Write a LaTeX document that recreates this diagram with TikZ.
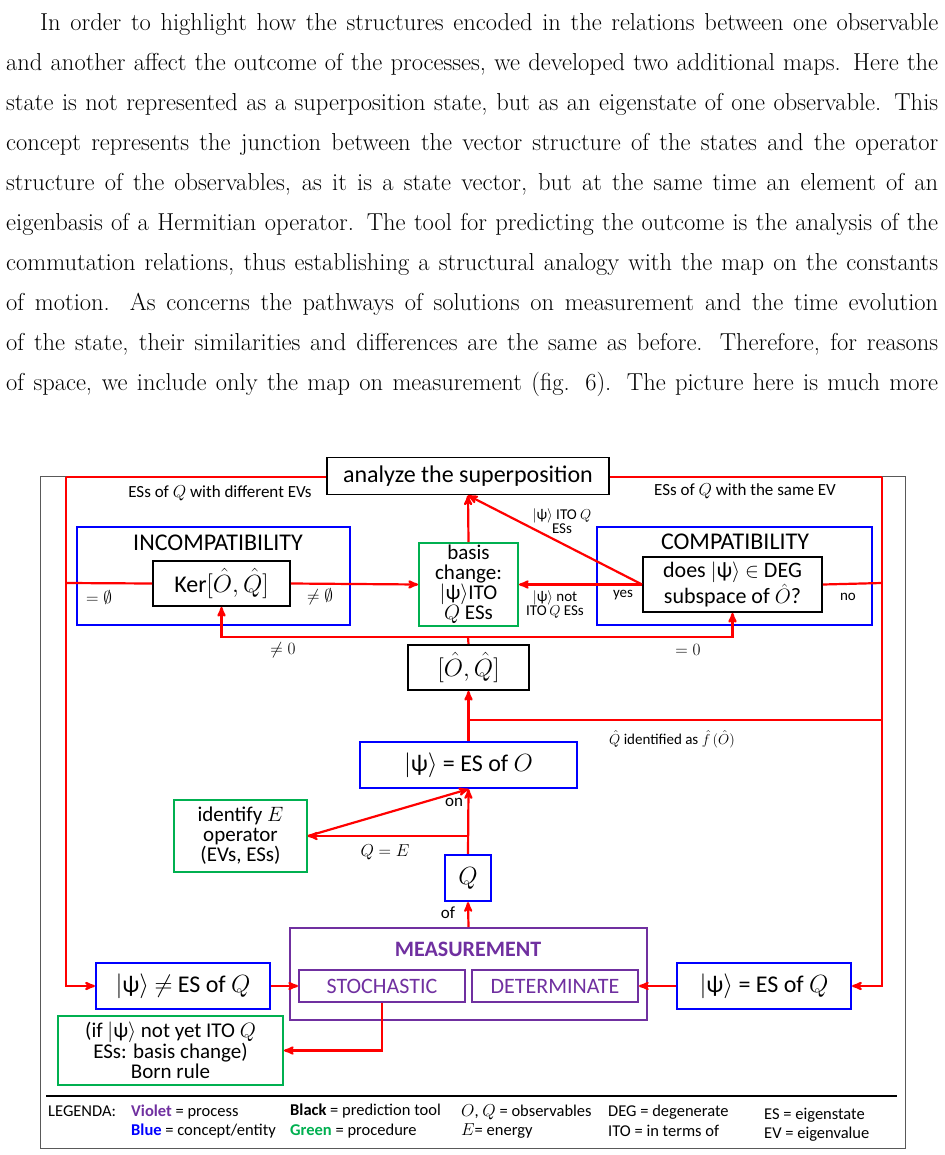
\documentclass[tikz,border=0pt]{standalone}
\usepackage{amsmath}
\usepackage{amssymb}
\usepackage{fontspec}
\setsansfont{Carlito}
\usetikzlibrary{arrows,positioning}
\definecolor{cred}{RGB}{255,0,0}
\definecolor{cblue}{RGB}{0,0,255}
\definecolor{cgreen}{RGB}{0,176,80}
\definecolor{cviolet}{RGB}{112,48,160}
\newcommand{\ket}{$|$ψ$\rangle$}
\tikzset{
    tool/.style={
    rectangle,draw=black,line width=1.8pt,fill=white,inner sep=2pt,align=center,font=\sffamily\fontsize{24}{24}\selectfont
    },
    concept/.style={
    rectangle,draw=cblue,line width=2.2pt,fill=white,inner sep=2pt,align=center,font=\sffamily\fontsize{24}{24}\selectfont
    },
    proc/.style={
    rectangle,draw=cgreen,line width=2pt,fill=white,inner sep=1pt,align=center,font=\sffamily\fontsize{21}{20}\selectfont
    },
    process/.style={
    rectangle,draw=cviolet,line width=2pt,align=center,font=\sffamily\fontsize{22}{22}\selectfont
    },
    flow/.style={
    draw=cred,line width=2.2pt,-stealth'
    },
    flowline/.style={
    draw=cred,line width=2.2pt
    },
    lab/.style={
    font=\sffamily\fontsize{15}{14}\selectfont,align=center,inner sep=0pt
    },
    leg/.style={
    font=\sffamily\fontsize{16.5}{16}\selectfont,anchor=west,inner sep=0pt
    },
}
\begin{document}
\begin{tikzpicture}[x=1pt,y=-1pt]
  \useasboundingbox[fill=white] (0,0) rectangle (944,1155);
  % running text
  \node[anchor=north west,inner sep=0pt,text width=932pt,align=justify,
        font=\fontsize{24.5}{40}\selectfont] (txt) at (6,2) {%
  \strut\hspace*{34pt}In order to highlight how the structures encoded in the relations between one observable\linebreak
  and another affect the outcome of the processes, we developed two additional maps. Here the\linebreak
  state is not represented as a superposition state, but as an eigenstate of one observable. This\linebreak
  concept represents the junction between the vector structure of the states and the operator\linebreak
  structure of the observables, as it is a state vector, but at the same time an element of an\linebreak
  eigenbasis of a Hermitian operator. The tool for predicting the outcome is the analysis of the\linebreak
  commutation relations, thus establishing a structural analogy with the map on the constants\linebreak
  of motion. As concerns the pathways of solutions on measurement and the time evolution\linebreak
  of the state, their similarities and differences are the same as before. Therefore, for reasons\linebreak
  of space, we include only the map on measurement (fig. 6). The picture here is much more\strut\parfillskip=0pt\par};
  % frame
  \draw[gray!70!black,line width=1pt] (40,476) rectangle (905,1148);

  % boxes
  \node[concept,minimum width=273pt,minimum height=98pt] (incomp) at (213.5,576) {};
  \node[concept,minimum width=275pt,minimum height=98pt] (comp) at (734.5,576) {};
  \node[font=\sffamily\fontsize{24}{24}\selectfont] at (218,543) {INCOMPATIBILITY};
  \node[font=\sffamily\fontsize{24}{24}\selectfont] at (735,542) {COMPATIBILITY};
  \node[tool,minimum width=282pt,minimum height=37pt] (super) at (468,476) {analyze the superposition};
  \node[tool,minimum width=137pt,minimum height=45pt] (ker) at (221.5,583.5) {Ker$[\hat{O},\hat{Q}]$};
  \node[tool,minimum width=179pt,minimum height=55pt,font=\sffamily\fontsize{22}{22}\selectfont] (deg) at (732.5,584.5)
       {does \ket{} $\in$ DEG\\subspace of $\hat{O}$?};
  \node[proc,minimum width=99pt,minimum height=83pt] (basis) at (468.5,584.5)
       {basis\\change:\\\ket{}ITO\\$Q$ ESs};
  \node[tool,minimum width=121pt,minimum height=45pt] (comm) at (468.5,667.5) {$[\hat{O},\hat{Q}]$};
  \node[concept,minimum width=217pt,minimum height=46pt] (eso) at (468.5,765) {\ket{} = ES of $O$};
  \node[proc,minimum width=133pt,minimum height=72pt] (ident) at (240.5,836) {identify $E$\\operator\\(EVs, ESs)};
  \node[concept,minimum width=46pt,minimum height=46pt] (q) at (468,878) {$Q$};
  \node[process,minimum width=357pt,minimum height=92pt] (meas) at (468.5,974) {};
  \node[font=\sffamily\bfseries\fontsize{22}{22}\selectfont,text=cviolet] at (468,949) {MEASUREMENT};
  \node[process,text=cviolet,minimum width=166pt,minimum height=32pt] (stoch) at (382,986) {STOCHASTIC};
  \node[process,text=cviolet,minimum width=166pt,minimum height=32pt] (det) at (555,986) {DETERMINATE};
  \node[concept,minimum width=174pt,minimum height=46pt] (notes) at (183,986) {\ket{} $\neq$ ES of $Q$};
  \node[concept,minimum width=174pt,minimum height=46pt] (ises) at (764,986) {\ket{} = ES of $Q$};
  \node[proc,minimum width=225pt,minimum height=69pt] (born) at (170.5,1050.5)
       {(if \ket{} not yet ITO $Q$\\ESs: basis change)\\Born rule};

  % junctions
  \coordinate (tl) at (66,477);
  \coordinate (tr) at (882,477);
  \coordinate (bl) at (66,986);
  \coordinate (br) at (882,986);
  \coordinate (split) at (468,637);
  \coordinate (fork) at (468,720);
  \coordinate (qe) at (468,836);

  % connectors
  \draw[flowline] (super.west|-tl) -- (tl);
  \draw[flow] (tl) -- (bl) -- (notes.west);
  \draw[flowline] (super.east|-tr) -- (tr);
  \draw[flow] (tr) -- (br) -- (ises.east);
  \draw[flowline] (66,583) -- (ker.west);
  \draw[flow] (ker.east) -- (basis.west);
  \draw[flow] (deg.west) -- (basis.east);
  \draw[flowline] (deg.east) -- (882,583);
  \draw[flow] (deg.west) -- (super.south);
  \draw[flow] (basis.north) -- (super.south);
  \draw[flowline] (comm.north) -- (split);
  \draw[flow] (split) -| (ker.south);
  \draw[flow] (split) -| (deg.south);
  \draw[flow] (eso.north) -- (comm.south);
  \draw[flowline] (fork) -- (882,720);
  \draw[flow] (q.north) -- (eso.south);
  \draw[flow] (qe) -- (ident.east);
  \draw[flow] (ident.east) -- (eso.south);
  \draw[flow] (meas.north) -- (q.south);
  \draw[flow] (notes.east) -- (stoch.west);
  \draw[flow] (ises.west) -- (det.east);
  \draw[flow] (stoch.south) |- (born.east);

  % labels
  \node[lab,font=\sffamily\fontsize{17}{16}\selectfont] at (220,493) {ESs of $Q$ with different EVs};
  \node[lab,font=\sffamily\fontsize{17}{16}\selectfont] at (745,491) {ESs of $Q$ with the same EV};
  \node[lab] at (562,521) {\ket{} ITO $Q$\\ESs};
  \node[lab,font=\sffamily\fontsize{17}{16}\selectfont] at (99,597) {$=\emptyset$};
  \node[lab,font=\sffamily\fontsize{17}{16}\selectfont] at (320,597) {$\neq\emptyset$};
  \node[lab] at (555,604) {\ket{} not\\ITO\,$Q$ ESs};
  \node[lab] at (623,595) {yes};
  \node[lab] at (848,597) {no};
  \node[lab,font=\sffamily\fontsize{17}{16}\selectfont] at (283,650) {$\neq 0$};
  \node[lab,font=\sffamily\fontsize{17}{16}\selectfont] at (688,650) {$= 0$};
  \node[lab,font=\sffamily\fontsize{15}{14}\selectfont] at (672,739) {$\hat{Q}$ identified as $\hat{f}\,(\hat{O})$};
  \node[lab,font=\sffamily\fontsize{17}{16}\selectfont] at (454,802) {on};
  \node[lab,font=\sffamily\fontsize{17}{16}\selectfont] at (385,852) {$Q=E$};
  \node[lab,font=\sffamily\fontsize{17}{16}\selectfont] at (448,913) {of};

  % legend
  \draw[line width=2pt] (46,1096) -- (897,1096);
  \node[leg] at (48,1111) {LEGENDA:};
  \node[leg] at (131,1112) {\textcolor{cviolet}{\bfseries Violet} = process};
  \node[leg] at (131,1131) {\textcolor{cblue}{\bfseries Blue} = concept/entity};
  \node[leg] at (290,1111) {\textbf{Black} = prediction tool};
  \node[leg] at (290,1131) {\textcolor{cgreen}{\bfseries Green} = procedure};
  \node[leg] at (461,1112) {$O$, $Q$ = observables};
  \node[leg] at (461,1131) {$E$= energy};
  \node[leg] at (608,1112) {DEG = degenerate};
  \node[leg] at (608,1131) {ITO = in terms of};
  \node[leg] at (764,1115) {ES = eigenstate};
  \node[leg] at (764,1134) {EV = eigenvalue};
\end{tikzpicture}
\end{document}
